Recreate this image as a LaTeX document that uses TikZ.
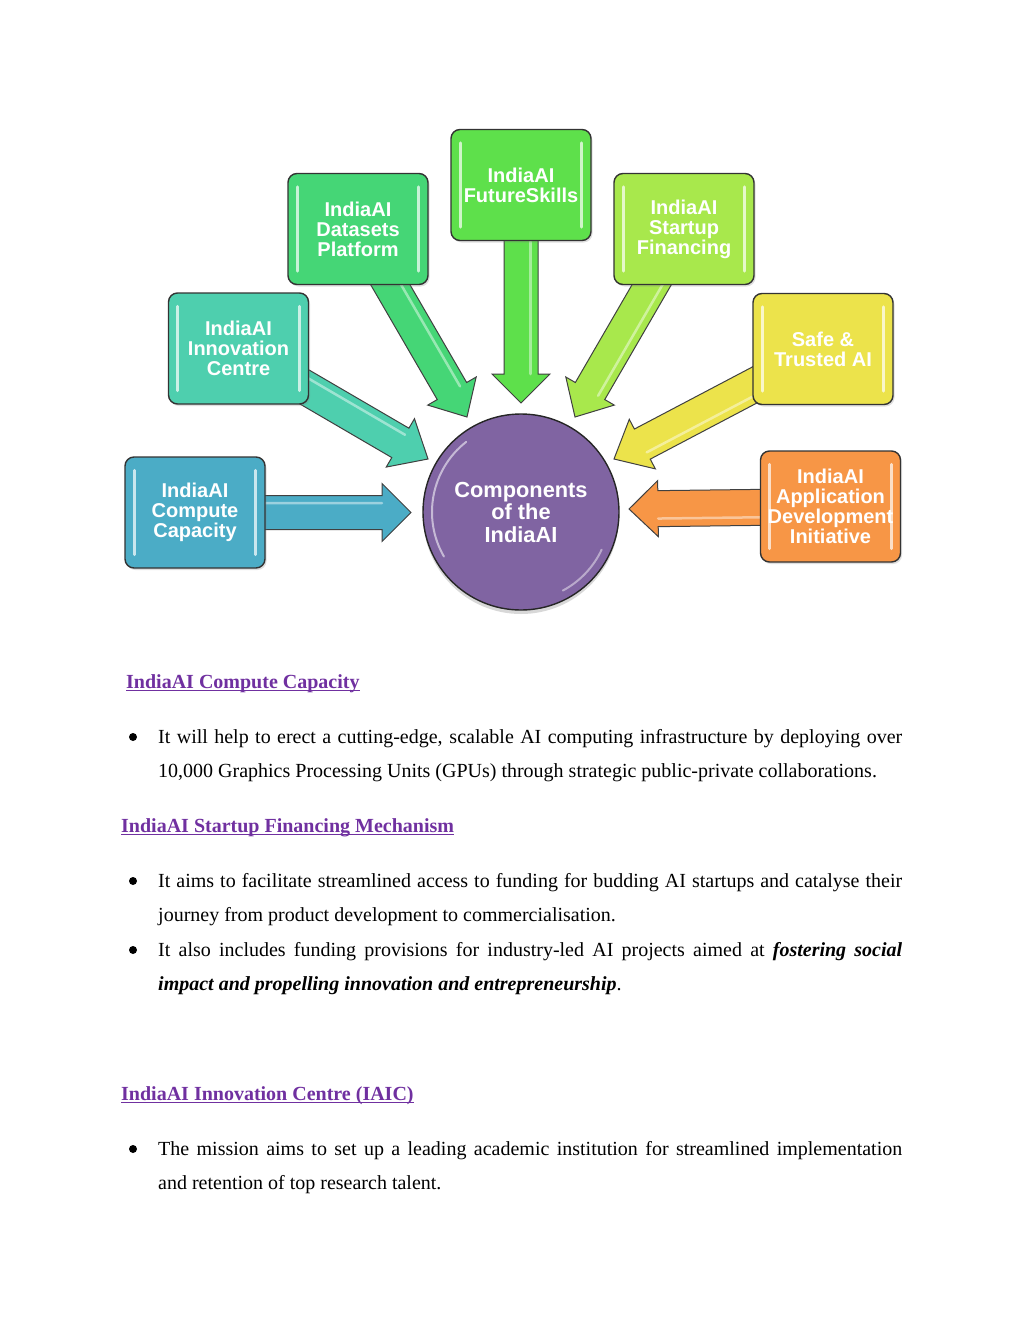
\documentclass[tikz,border=0pt]{standalone}
\usepackage{fontspec}
\setmainfont{Liberation Serif}
\newfontfamily\boxfont{Liberation Sans}
\usetikzlibrary{calc,shadows}
\definecolor{cComp}{HTML}{4BACC6}
\definecolor{cInno}{HTML}{4ECFAE}
\definecolor{cData}{HTML}{45D676}
\definecolor{cFut}{HTML}{5EE04B}
\definecolor{cStart}{HTML}{A8E84C}
\definecolor{cSafe}{HTML}{ECE34B}
\definecolor{cApp}{HTML}{F79646}
\definecolor{cHub}{HTML}{8064A2}
\definecolor{headc}{HTML}{7030A0}
\pgfdeclarelayer{back}\pgfdeclarelayer{arrowlayer}
\pgfsetlayers{back,arrowlayer,main}
% #1 start, #2 tip, #3 half shaft, #4 half head, #5 head length, #6 colour
\newcommand\blockarrow[6]{%
  \coordinate (ba) at ($(#2)!#5!(#1)$);
  \coordinate (bs) at ($(#1)!0.3!(ba)$);
  \filldraw[fill=#6, draw=black!75, line width=1pt, line join=miter]
    ($(#1)!#3!90:(#2)$) -- ($(ba)!#3!90:(#2)$) -- ($(ba)!#4!90:(#2)$) -- (#2)
    -- ($(ba)!#4!-90:(#2)$) -- ($(ba)!#3!-90:(#2)$) -- ($(#1)!#3!-90:(#2)$) -- cycle;
  \draw[white, opacity=.45, line width=2.5pt, line cap=round]
    ($(bs)!#3*0.55!90:(#2)$) -- ($(ba)!#3*0.55!90:(#2)$);
}
\newcommand\boxgloss[1]{%
  \draw[white, opacity=.7, line width=3pt, line cap=round]
    ($(#1.north west)+(10,14)$) -- ($(#1.south west)+(10,-14)$)
    ($(#1.north east)+(-10,14)$) -- ($(#1.south east)+(-10,-14)$);
}
\begin{document}
\begin{tikzpicture}[x=1pt,y=-1pt,
  box/.style={draw=black!80, line width=1.4pt, rounded corners=9pt,
    minimum width=140pt, minimum height=111pt, inner sep=0pt, align=center,
    text=white, font=\boxfont\bfseries\fontsize{20}{20}\selectfont,
    drop shadow={opacity=.25, shadow xshift=1.5pt, shadow yshift=-2pt}},
  hub/.style={circle, draw=black!85, line width=1.4pt, fill=cHub,
    minimum size=196pt, inner sep=0pt, align=center, text=white,
    font=\boxfont\bfseries\fontsize{21.8}{22.5}\selectfont,
    drop shadow={opacity=.3, shadow xshift=0pt, shadow yshift=-4pt}},
  hd/.style={anchor=base west, inner sep=0pt, text=headc,
    font=\bfseries\fontsize{20}{24}\selectfont},
  body/.style={anchor=base west, inner sep=0pt,
    font=\fontsize{20}{34.8}\selectfont},
  bullet/.style={circle, fill=black, inner sep=0pt, minimum size=8pt},
  uline/.style={headc, line width=1.3pt}
]
\begin{pgfonlayer}{back}
\fill[white] (0,0) rectangle (1024,1325);
\end{pgfonlayer}
\useasboundingbox (0,0) rectangle (1024,1325);

% hub and boxes
\node[hub] (hub) at (521,512) {Components\\of the\\IndiaAI};
\node[box, fill=cComp]  (comp)  at (195,512.5) {IndiaAI\\Compute\\Capacity};
\node[box, fill=cInno]  (inno)  at (238.5,348.5) {IndiaAI\\Innovation\\Centre};
\node[box, fill=cData]  (data)  at (358,229) {IndiaAI\\Datasets\\Platform};
\node[box, fill=cFut]   (fut)   at (521,185) {IndiaAI\\FutureSkills};
\node[box, fill=cStart] (start) at (684,229) {IndiaAI\\Startup\\Financing};
\node[box, fill=cSafe]  (safe)  at (823,349) {Safe \&\\Trusted AI};
\node[box, fill=cApp]   (app)   at (830.5,506.5) {IndiaAI\\Application\\Development\\Initiative};
\foreach \n in {comp,inno,data,fut,start,safe,app} {\boxgloss{\n}}
\draw[white, opacity=.55, line width=2pt, line cap=round]
  ($(hub.center)+(150:89)$) arc[start angle=150, end angle=232, radius=89];
\draw[white, opacity=.45, line width=2pt, line cap=round]
  ($(hub.center)+(25:89)$) arc[start angle=25, end angle=62, radius=89];

% arrow tips near the hub
\coordinate (tComp)  at (411,512.5);
\coordinate (tInno)  at (428,459);
\coordinate (tData)  at (467,417);
\coordinate (tFut)   at (521,403);
\coordinate (tStart) at (575,417);
\coordinate (tSafe)  at (614,459);
\coordinate (tApp)   at (629,509);

\begin{pgfonlayer}{arrowlayer}
\blockarrow{comp.center}{tComp}{17pt}{29pt}{29pt}{cComp}
\blockarrow{inno.center}{tInno}{17pt}{28pt}{32pt}{cInno}
\blockarrow{data.center}{tData}{17pt}{28pt}{30pt}{cData}
\blockarrow{fut.center}{tFut}{17pt}{29pt}{29pt}{cFut}
\blockarrow{start.center}{tStart}{17pt}{28pt}{30pt}{cStart}
\blockarrow{safe.center}{tSafe}{17pt}{28pt}{32pt}{cSafe}
\blockarrow{app.center}{tApp}{18pt}{28pt}{29pt}{cApp}
\end{pgfonlayer}

% text below
\node[hd] (h1) at (126,688) {IndiaAI Compute Capacity};
\draw[uline] ($(h1.base west)+(0,2.5)$) -- ($(h1.base east)+(0,2.5)$);
\node[bullet] (b1) at (133,737) {};
\node[body] (p1) at (158,743) {\parbox[t]{744pt}{It will help to erect a cutting-edge, scalable AI computing infrastructure by deploying over\linebreak 10,000 Graphics Processing Units (GPUs) through strategic public-private collaborations.}};

\node[hd] (h2) at (121,832) {IndiaAI Startup Financing Mechanism};
\draw[uline] ($(h2.base west)+(0,2.5)$) -- ($(h2.base east)+(0,2.5)$);
\node[bullet] (b2) at (133,881) {};
\node[body] (p2) at (158,887) {\parbox[t]{744pt}{It aims to facilitate streamlined access to funding for budding AI startups and catalyse their\linebreak journey from product development to commercialisation.}};
\node[bullet] (b3) at (133,950) {};
\node[body] (p3) at (158,956) {\parbox[t]{744pt}{It also includes funding provisions for industry-led AI projects aimed at \textbf{\textit{fostering social}}\linebreak \textbf{\textit{impact and propelling innovation and entrepreneurship}}.}};

\node[hd] (h3) at (121,1100) {IndiaAI Innovation Centre (IAIC)};
\draw[uline] ($(h3.base west)+(0,2.5)$) -- ($(h3.base east)+(0,2.5)$);
\node[bullet] (b4) at (133,1149) {};
\node[body] (p4) at (158,1155) {\parbox[t]{744pt}{The mission aims to set up a leading academic institution for streamlined implementation\linebreak and retention of top research talent.}};
\end{tikzpicture}
\end{document}
